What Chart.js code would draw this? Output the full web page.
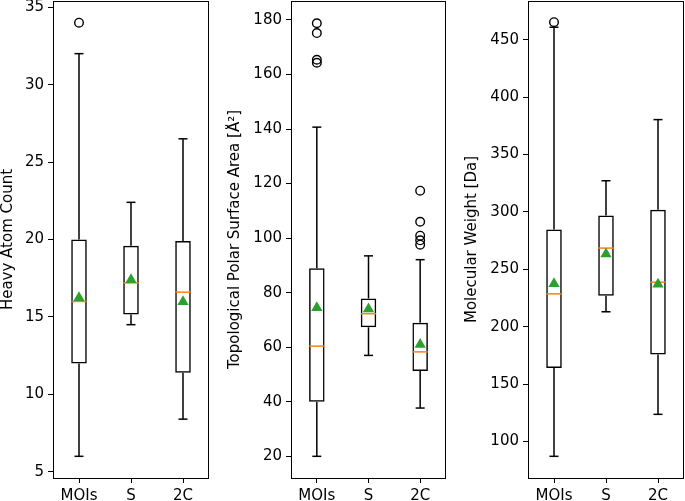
<!DOCTYPE html>
<html>
<head>
<meta charset="utf-8">
<script src="https://cdn.jsdelivr.net/npm/chart.js@4.4.1/dist/chart.umd.min.js"></script>
<style>
  html, body { margin: 0; padding: 0; background: #fff; }
  #wrap { position: relative; width: 685px; height: 501px; overflow: hidden; }
  canvas { position: absolute; top: 0; }
</style>
</head>
<body>
<div id="wrap">
  <canvas id="hac" width="225" height="501" style="left:0px"></canvas>
  <canvas id="tpsa" width="230" height="501" style="left:225px"></canvas>
  <canvas id="mw" width="230" height="501" style="left:455px"></canvas>
</div>
<script>
const categories = ["MOIs", "S", "2C"];

// -- Heavy atom count --
const hacLow = [6, 14.5, 8.4];
const hacQ1 = [12, 15.15, 11.4];
const hacMedian = [16, 17.2, 16.6];
const hacQ3 = [20, 19.6, 19.9];
const hacHigh = [32, 22.4, 26.5];
const hacMean = [16.24, 17.4, 15.98];
const hacOutliers = [[34], [], []];
const hacTicks = [5, 10, 15, 20, 25, 30, 35];

// -- Topological polar surface area --
const tpsaLow = [20, 57, 37.7];
const tpsaQ1 = [40, 67.3, 51.3];
const tpsaMedian = [60.4, 72.3, 58.3];
const tpsaQ3 = [89, 77.9, 69];
const tpsaHigh = [140.7, 93.5, 92.1];
const tpsaMean = [74.5, 74, 61];
const tpsaOutliers = [[178.8, 175.2, 165.4, 164.3], [], [117.4, 106, 100.9, 99.2, 97.6]];
const tpsaTicks = [20, 40, 60, 80, 100, 120, 140, 160, 180];

// -- Molecular weight --
const mwLow = [87, 213, 123.6];
const mwQ1 = [164, 227, 175.7];
const mwMedian = [228.6, 268.5, 238.8];
const mwQ3 = [284.8, 297, 302];
const mwHigh = [461, 327.2, 380.5];
const mwMean = [237.5, 263.4, 237];
const mwOutliers = [[465.4], [], []];
const mwTicks = [100, 150, 200, 250, 300, 350, 400, 450];

const FONT = "DejaVu Sans";

// -- frame round the plot area (matplotlib spines) --
const framePlugin = {
  id: "frame",
  afterDraw(chart) {
    const a = chart.chartArea;
    const ctx = chart.ctx;
    ctx.save();
    ctx.strokeStyle = "#000";
    ctx.lineWidth = 1;
    ctx.strokeRect(Math.round(a.left) + 0.5, Math.round(a.top) + 0.5,
      Math.round(a.width) - 1, Math.round(a.height));
    ctx.restore();
  },
};

// --- Builds one box plot panel ---
function makeBoxChart(id, d) {
  const ctx = document.getElementById(id).getContext("2d");

  const flierPts = [];
  d.outliers.forEach((list, i) => {
    list.forEach((v) => flierPts.push({ x: categories[i], y: v }));
  });
  const capPts = [];
  categories.forEach((c, i) => {
    capPts.push({ x: c, y: d.low[i] });
    capPts.push({ x: c, y: d.high[i] });
  });

  return new Chart(ctx, {
    type: "bar",
    data: {
      labels: categories,
      datasets: [
        {
          label: "lower whisker",
          data: categories.map((c, i) => [d.low[i], d.q1[i]]),
          backgroundColor: "#000",
          maxBarThickness: 1.5,
          grouped: false,
          order: 6,
        },
        {
          label: "upper whisker",
          data: categories.map((c, i) => [d.q3[i], d.high[i]]),
          backgroundColor: "#000",
          maxBarThickness: 1.5,
          grouped: false,
          order: 6,
        },
        {
          label: "box",
          data: categories.map((c, i) => [d.q1[i], d.q3[i]]),
          backgroundColor: "rgba(0,0,0,0)",
          borderColor: "#000",
          borderWidth: 1.5,
          borderSkipped: false,
          barPercentage: 0.3,
          categoryPercentage: 1,
          grouped: false,
          order: 5,
        },
        {
          type: "line",
          label: "caps",
          data: capPts,
          showLine: false,
          pointStyle: "line",
          pointRadius: 4.5,
          pointBorderColor: "#000",
          pointBorderWidth: 1.5,
          order: 4,
        },
        {
          type: "line",
          label: "median",
          data: d.median,
          showLine: false,
          pointStyle: "line",
          pointRadius: 7.6,
          pointBorderColor: "#ff7f0e",
          pointBorderWidth: 1.5,
          order: 3,
        },
        {
          type: "line",
          label: "outliers",
          data: flierPts,
          showLine: false,
          pointStyle: "circle",
          pointRadius: 4.3,
          pointBackgroundColor: "rgba(0,0,0,0)",
          pointBorderColor: "#000",
          pointBorderWidth: 1.4,
          order: 2,
        },
        {
          type: "line",
          label: "mean",
          data: d.mean,
          showLine: false,
          pointStyle: "triangle",
          pointRadius: 6.5,
          pointBackgroundColor: "#2ca02c",
          pointBorderColor: "#2ca02c",
          pointBorderWidth: 0,
          order: 1,
        },
      ],
    },
    options: {
      responsive: false,
      animation: false,
      events: [],
      layout: {
        autoPadding: false,
        padding: { top: 1, right: d.padRight, bottom: 0, left: 0 },
      },
      plugins: {
        legend: { display: false },
        tooltip: { enabled: false },
      },
      scales: {
        x: {
          offset: true,
          grid: {
            display: true,
            offset: false,
            drawOnChartArea: false,
            drawTicks: true,
            tickLength: 5,
            tickColor: "#000",
            tickWidth: 1,
          },
          border: { display: false },
          ticks: { color: "#000", font: { family: FONT, size: 15 }, padding: 4 },
          afterFit: (s) => {
            s.height = 23;
            s.paddingLeft = 0;
            s.paddingRight = 0;
          },
        },
        y: {
          min: d.yMin,
          max: d.yMax,
          afterBuildTicks: (s) => {
            s.ticks = d.ticks.map((v) => ({ value: v }));
          },
          grid: {
            display: true,
            drawOnChartArea: false,
            drawTicks: true,
            tickLength: 5,
            tickColor: "#000",
            tickWidth: 1,
          },
          border: { display: false },
          ticks: { color: "#000", font: { family: FONT, size: 15 }, padding: 4 },
          title: {
            display: true,
            text: d.title,
            color: "#000",
            font: { family: FONT, size: 15, lineHeight: 1 },
            padding: { top: d.titlePad, bottom: 0 },
          },
          afterFit: (s) => {
            s.width = d.axisWidth;
            s.paddingTop = 0;
            s.paddingBottom = 0;
          },
        },
      },
    },
    plugins: [framePlugin],
  });
}

makeBoxChart("hac", {
  low: hacLow, q1: hacQ1, median: hacMedian, q3: hacQ3, high: hacHigh,
  mean: hacMean, outliers: hacOutliers, ticks: hacTicks,
  yMin: 4.6, yMax: 35.4,
  title: "Heavy Atom Count",
  axisWidth: 53, padRight: 16, titlePad: 1,
});

makeBoxChart("tpsa", {
  low: tpsaLow, q1: tpsaQ1, median: tpsaMedian, q3: tpsaQ3, high: tpsaHigh,
  mean: tpsaMean, outliers: tpsaOutliers, ticks: tpsaTicks,
  yMin: 12.05, yMax: 186.95,
  title: "Topological Polar Surface Area [Å²]",
  axisWidth: 66, padRight: 9, titlePad: 2.5,
});

makeBoxChart("mw", {
  low: mwLow, q1: mwQ1, median: mwMedian, q3: mwQ3, high: mwHigh,
  mean: mwMean, outliers: mwOutliers, ticks: mwTicks,
  yMin: 68.1, yMax: 483.9,
  title: "Molecular Weight [Da]",
  axisWidth: 73, padRight: 1, titlePad: 10,
});
</script>
</body>
</html>
